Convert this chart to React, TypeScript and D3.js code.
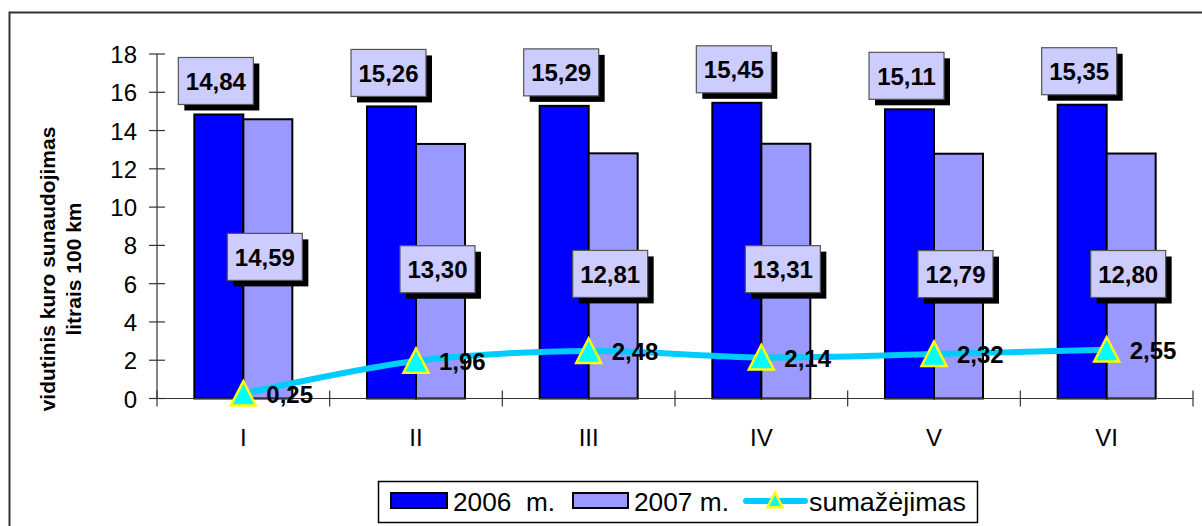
import React from 'react';
import * as d3 from 'd3';

const months = ['I', 'II', 'III', 'IV', 'V', 'VI'];
const y2006 = [14.84, 15.26, 15.29, 15.45, 15.11, 15.35];
const y2007 = [14.59, 13.3, 12.81, 13.31, 12.79, 12.8];
const drop = [0.25, 1.96, 2.48, 2.14, 2.32, 2.55];
const yTicks = [0, 2, 4, 6, 8, 10, 12, 14, 16, 18];

const W = 1202;
const H = 526;
const FONT = '"Liberation Sans", Arial, sans-serif';

const fmt = (v: number) => v.toFixed(2).replace('.', ',');

// value label box with black drop shadow
function LabelBox(props: { cx: number; cy: number; text: string }) {
  const w = 75, h = 47, off = 6;
  const x0 = props.cx - w / 2, y0 = props.cy - h / 2;
  return (
    <g>
      <rect x={x0 + off} y={y0 + off} width={w} height={h} fill="#000" />
      <rect x={x0} y={y0} width={w} height={h} fill="#ccccff" stroke="#555" strokeWidth={1.2} />
      <text x={props.cx} y={props.cy + 9} textAnchor="middle" fontFamily={FONT} fontWeight="bold" fontSize={24} fill="#000">
        {props.text}
      </text>
    </g>
  );
}

function Triangle(props: { x: number; y: number; s?: number }) {
  const s = props.s ?? 12.5;
  const p = d3.path();
  p.moveTo(props.x, props.y - s);
  p.lineTo(props.x + s, props.y + s * 0.95);
  p.lineTo(props.x - s, props.y + s * 0.95);
  p.closePath();
  return <path d={p.toString()} fill="#00ffff" stroke="#ffff00" strokeWidth={2.5} />;
}

export default function App() {
  const x = d3.scaleBand<string>().domain(months).range([157, 1193]).padding(0);
  const inner = d3.scaleBand<string>().domain(['2006', '2007']).range([0, 98]).padding(0);
  const y = d3.scaleLinear().domain([0, 18]).range([398.5, 54]);

  const cx = (m: string) => (x(m) as number) + x.bandwidth() / 2;
  const gx = (m: string) => cx(m) - 49;

  const line = d3
    .line<number>()
    .x((_, i) => cx(months[i]))
    .y((d) => y(d))
    .curve(d3.curveCatmullRom.alpha(0.5));

  return (
    <svg width={W} height={H} style={{ position: 'absolute', left: 0, top: 0, background: '#fff' }}>
      <rect x={0} y={0} width={W} height={H} fill="#fff" />
      {/* outer frame */}
      <rect x={9.5} y={12.5} width={1220} height={540} fill="none" stroke="#333" strokeWidth={2} />

      {/* y axis */}
      <line x1={157} x2={157} y1={y(18)} y2={y(0)} stroke="#333" strokeWidth={1.2} />
      {yTicks.map((t) => (
        <g key={t}>
          <line x1={149} x2={165} y1={y(t)} y2={y(t)} stroke="#333" strokeWidth={1.2} />
          <text x={137} y={y(t) + 9} textAnchor="end" fontFamily={FONT} fontSize={24} fill="#000">
            {t}
          </text>
        </g>
      ))}
      <text transform="translate(55,269) rotate(-90)" textAnchor="middle" fontFamily={FONT} fontWeight="bold" fontSize={21}>
        vidutinis kuro sunaudojimas
      </text>
      <text transform="translate(81,269) rotate(-90)" textAnchor="middle" fontFamily={FONT} fontWeight="bold" fontSize={21}>
        litrais 100 km
      </text>

      {/* bars */}
      {months.map((m, i) => (
        <g key={m}>
          <rect x={gx(m) + (inner('2006') as number)} y={y(y2006[i])} width={inner.bandwidth()} height={y(0) - y(y2006[i])} fill="#0000ff" stroke="#000" strokeWidth={2} />
          <rect x={gx(m) + (inner('2007') as number)} y={y(y2007[i])} width={inner.bandwidth()} height={y(0) - y(y2007[i])} fill="#9999ff" stroke="#000" strokeWidth={2} />
        </g>
      ))}

      {/* x axis */}
      <line x1={157} x2={1193} y1={y(0)} y2={y(0)} stroke="#333" strokeWidth={1.2} />
      {[...months.map((m) => x(m) as number), 1193].map((t, i) => (
        <line key={i} x1={t} x2={t} y1={y(0) - 8} y2={y(0) + 8} stroke="#333" strokeWidth={1.2} />
      ))}
      {months.map((m) => (
        <text key={m} x={cx(m)} y={446} textAnchor="middle" fontFamily={FONT} fontSize={24}>
          {m}
        </text>
      ))}

      {/* value labels */}
      {months.map((m, i) => (
        <g key={m}>
          <LabelBox cx={gx(m) + (inner('2006') as number) + inner.bandwidth() / 2 - 3} cy={y(y2006[i]) - 10 - 23.5} text={fmt(y2006[i])} />
          <LabelBox cx={gx(m) + (inner('2007') as number) + inner.bandwidth() / 2 - 3} cy={y(y2007[i] / 2) - 2} text={fmt(y2007[i])} />
        </g>
      ))}

      {/* decrease line */}
      <path d={line(drop) as string} fill="none" stroke="#00ccff" strokeWidth={6} />
      {drop.map((d, i) => (
        <g key={i}>
          <Triangle x={cx(months[i])} y={y(d)} />
          <text x={cx(months[i]) + 23} y={y(d) + 9} fontFamily={FONT} fontWeight="bold" fontSize={24}>
            {fmt(d)}
          </text>
        </g>
      ))}

      {/* legend */}
      <rect x={378.5} y={481.5} width={599} height={41} fill="#fff" stroke="#000" strokeWidth={1.5} />
      <rect x={391} y={493} width={56} height={15} fill="#0000ff" stroke="#000" strokeWidth={2} />
      <text x={453} y={511} fontFamily={FONT} fontSize={26} textLength={102} lengthAdjust="spacingAndGlyphs">2006&#160;&#160;m.</text>
      <rect x={573} y={493} width={55} height={15} fill="#9999ff" stroke="#000" strokeWidth={2} />
      <text x={634} y={511} fontFamily={FONT} fontSize={26} textLength={95} lengthAdjust="spacingAndGlyphs">2007 m.</text>
      <line x1={746} x2={805} y1={501} y2={501} stroke="#00ccff" strokeWidth={6} strokeLinecap="round" />
      <Triangle x={775} y={500} s={7.5} />
      <text x={809} y={511} fontFamily={FONT} fontSize={26} textLength={157} lengthAdjust="spacingAndGlyphs">sumažėjimas</text>
    </svg>
  );
}
